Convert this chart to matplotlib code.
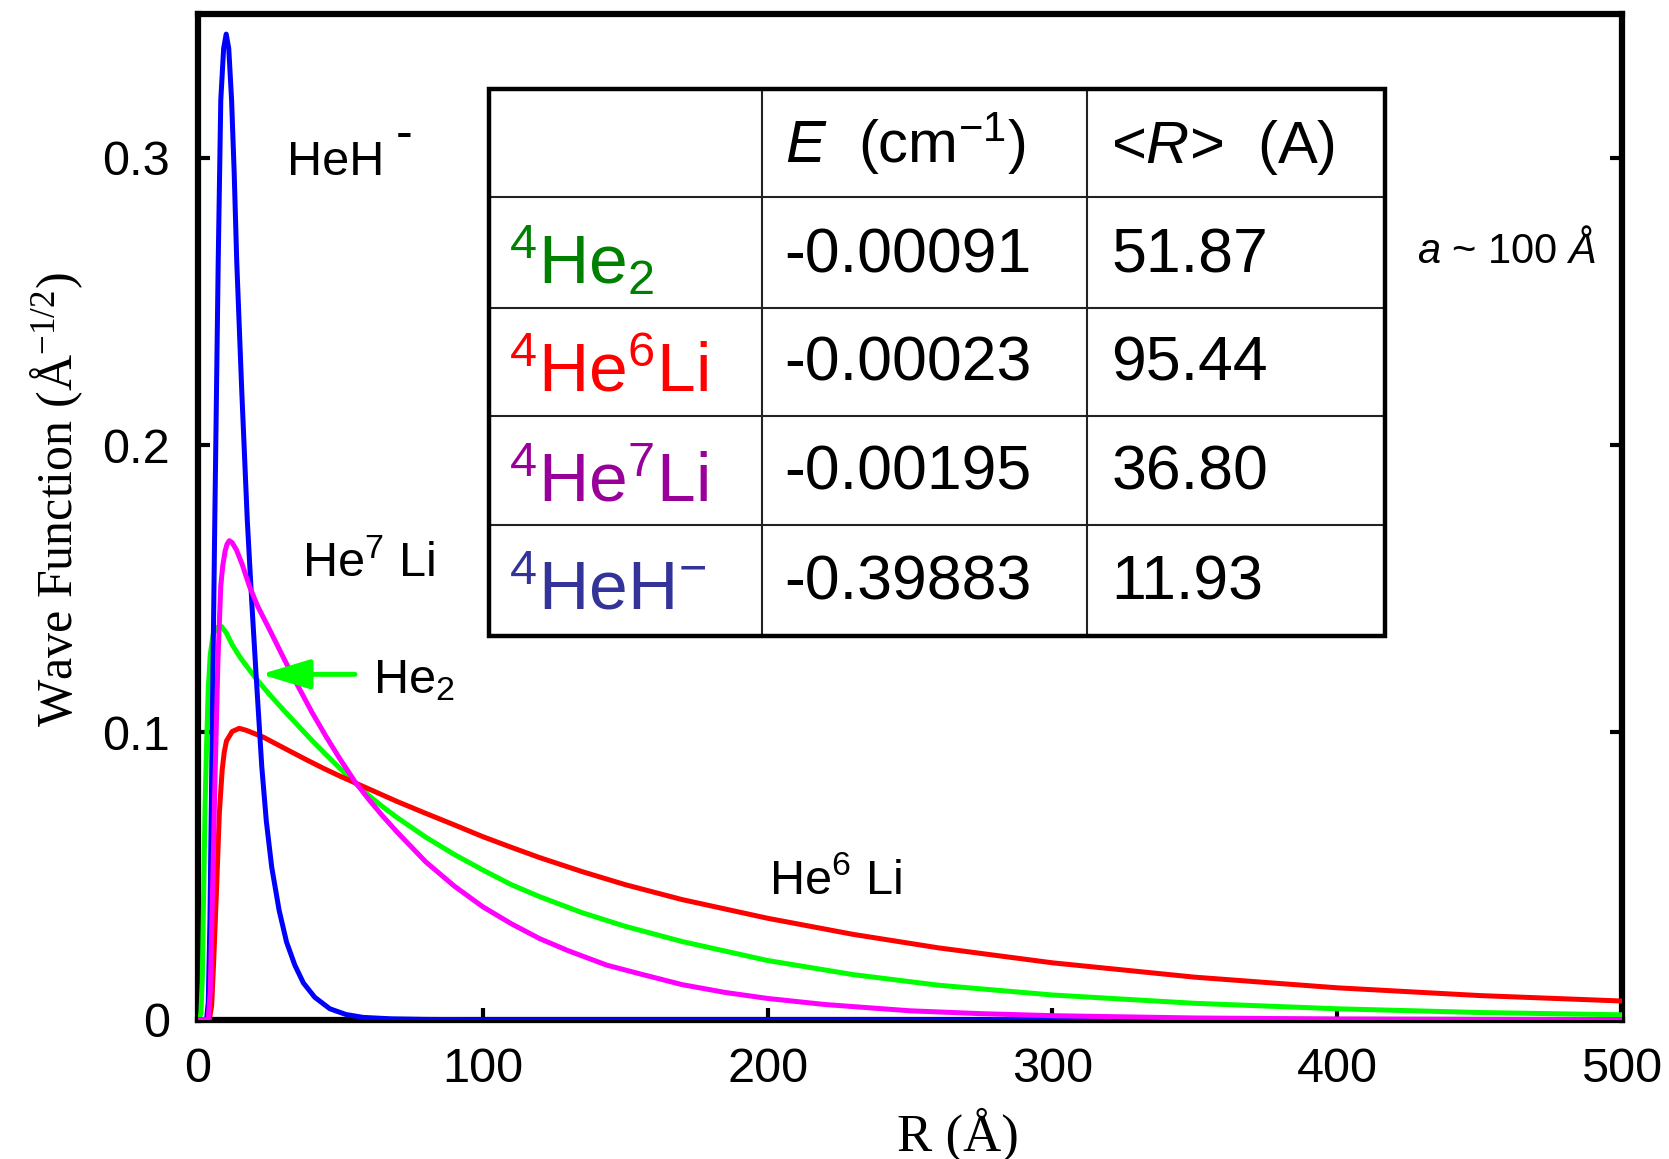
import matplotlib.pyplot as plt

plt.rcParams['font.family'] = 'Liberation Sans'
plt.rcParams['mathtext.fontset'] = 'custom'
plt.rcParams['mathtext.rm'] = 'Liberation Sans'
plt.rcParams['mathtext.it'] = 'Liberation Sans:italic'
plt.rcParams['mathtext.default'] = 'regular'

# Wave functions: R in Angstrom, psi in A^-1/2
r_he2 = [0, 1.0, 1.5, 2.0, 2.5, 3.0, 3.6, 4.3, 5.3, 6.5, 8.3, 10, 12, 15, 20, 25,
         30, 35, 40, 45, 50, 55, 60, 65, 70, 80, 90, 100, 110, 120, 135, 150,
         170, 200, 230, 260, 300, 350, 400, 450, 500]
psi_he2 = [0, 0.002, 0.014, 0.045, 0.075, 0.095, 0.115, 0.127, 0.134, 0.1365,
           0.1368, 0.1345, 0.1305, 0.1258, 0.1192, 0.1133, 0.1078, 0.1025,
           0.0972, 0.0922, 0.0873, 0.0825, 0.0780, 0.0740, 0.0703, 0.0635,
           0.0575, 0.0521, 0.0470, 0.0428, 0.0372, 0.0325, 0.0272, 0.0206,
           0.0157, 0.0120, 0.0086, 0.0057, 0.0038, 0.0025, 0.0017]

r_he6li = [0, 4.0, 4.8, 5.5, 6.5, 7.5, 8.5, 9.2, 10, 12, 14.5, 17, 20, 23, 27,
           32, 38, 44, 50, 55, 60, 65, 70, 80, 90, 100, 110, 120, 135, 150, 170,
           200, 230, 260, 300, 350, 400, 450, 500]
psi_he6li = [0, 0, 0.005, 0.02, 0.045, 0.072, 0.087, 0.093, 0.097, 0.1003,
             0.1014, 0.1007, 0.0995, 0.0983, 0.0962, 0.0936, 0.0905, 0.0875,
             0.0847, 0.0825, 0.0803, 0.0781, 0.0759, 0.0718, 0.0678, 0.0637,
             0.0600, 0.0564, 0.0515, 0.0470, 0.0418, 0.0353, 0.0297, 0.0250,
             0.0198, 0.0148, 0.0111, 0.0084, 0.0065]

r_he7li = [0, 3.6, 4.3, 5.0, 6.0, 7.0, 8.0, 8.7, 9.5, 10.2, 11, 12, 13.5, 15.5,
           18, 21, 25, 30, 35, 40, 45, 50, 55, 60, 65, 70, 80, 90, 100, 110, 120,
           130, 143.5, 155, 170, 185, 200, 220, 250, 275, 300, 350, 400, 450, 500]
psi_he7li = [0, 0, 0.01, 0.04, 0.085, 0.125, 0.151, 0.158, 0.163, 0.1655,
             0.1667, 0.1660, 0.1635, 0.1585, 0.1510, 0.1438, 0.1360, 0.1260,
             0.1163, 0.1070, 0.0985, 0.0905, 0.0830, 0.0766, 0.0707, 0.0652,
             0.0549, 0.0465, 0.0393, 0.0334, 0.0282, 0.0240, 0.0190, 0.0160,
             0.0122, 0.0095, 0.0074, 0.0053, 0.0031, 0.0021, 0.0014, 0.0006,
             0.00025, 0.0001, 0.00005]

r_heh = [0, 3.0, 3.6, 4.2, 4.8, 5.9, 7.1, 8.0, 9.0, 9.9, 10.8, 11.8, 12.7, 13.6,
         15.4, 17.3, 18.9, 20.4, 22.4, 24.0, 25.9, 28.5, 31.1, 34, 37, 41, 46.3,
         52, 58, 68, 80, 100, 200, 320]
psi_heh = [0, 0, 0.006, 0.035, 0.085, 0.174, 0.264, 0.32, 0.338, 0.343, 0.338,
           0.32, 0.295, 0.264, 0.218, 0.174, 0.145, 0.12, 0.088, 0.069, 0.053,
           0.038, 0.027, 0.019, 0.0128, 0.0078, 0.0038, 0.0018, 0.0008, 0.0003,
           0.0001, 0, 0, 0]

# table contents
species = [r'$^{4}$He$_{2}$', r'$^{4}$He$^{6}$Li', r'$^{4}$He$^{7}$Li', r'$^{4}$HeH$^{-}$']
species_colors = ['#008000', '#ff0000', '#990099', '#333399']
energies = ['-0.00091', '-0.00023', '-0.00195', '-0.39883']
mean_r = ['51.87', '95.44', '36.80', '11.93']

fig = plt.figure(figsize=(16.69, 11.59), dpi=100)
ax = fig.add_axes([0.11863, 0.12019, 0.85321, 0.86773])

ax.plot(r_he2, psi_he2, color='#00ff00', lw=3.6, zorder=3)
ax.plot(r_he6li, psi_he6li, color='#ff0000', lw=3.6, zorder=3)
ax.plot(r_heh, psi_heh, color='#0000ff', lw=3.6, zorder=3)
ax.plot(r_he7li, psi_he7li, color='#ff00ff', lw=3.6, zorder=3)

ax.set_xlim(0, 500)
ax.set_ylim(0, 0.35)
ax.set_xticks([0, 100, 200, 300, 400, 500])
ax.set_yticks([0, 0.1, 0.2, 0.3])
ax.set_yticklabels(['0', '0.1', '0.2', '0.3'])
ax.tick_params(direction='in', length=8.5, width=3, labelsize=35, pad=20,
               left=True, right=True, top=False, bottom=True)
for s in ax.spines.values():
    s.set_linewidth(4.5)

ax.set_ylabel('Wave Function (Å$^{-1/2}$)', family='Liberation Serif',
              fontsize=36, va='center')
ax.yaxis.set_label_coords(-0.099, 0.517)
ax.set_xlabel('R (Å)', family='Liberation Serif', fontsize=38, va='center')
ax.xaxis.set_label_coords(0.5337, -0.114)

# curve labels
ax.text(31.1, 0.2939, 'HeH', fontsize=35, va='baseline')
ax.text(72.3, 0.3035, '-', fontsize=36, va='baseline', ha='center')
ax.text(36.4, 0.1541, 'He$^{7}$ Li', fontsize=35, va='baseline')
ax.text(61.4, 0.1137, 'He$_{2}$', fontsize=35, va='baseline')
ax.text(200.5, 0.0437, 'He$^{6}$ Li', fontsize=35, va='baseline')
ax.text(428.1, 0.2635, r'$\mathit{a}$ ~ 100 $\mathit{Å}$', fontsize=30, va='baseline')
ax.annotate('', xy=(22.0, 0.1202), xytext=(55.1, 0.1202),
            arrowprops=dict(arrowstyle='-|>,head_length=1.5,head_width=0.45',
                            color='#00ff00', lw=3.6, mutation_scale=20,
                            shrinkA=0, shrinkB=0))

# inset table (axes fraction)
tx = [0.2041, 0.3961, 0.6242, 0.8334]
ty = [0.9250, 0.8181, 0.7081, 0.6001, 0.4922, 0.3820]
tr = ax.transAxes
for y in ty[1:-1]:
    ax.plot([tx[0], tx[-1]], [y, y], color='#222222', lw=1.5, transform=tr, zorder=4)
for x in tx[1:-1]:
    ax.plot([x, x], [ty[-1], ty[0]], color='#222222', lw=1.5, transform=tr, zorder=4)
ax.add_patch(plt.Rectangle((tx[0], ty[-1]), tx[-1] - tx[0], ty[0] - ty[-1],
                           transform=tr, fill=False, ec='black', lw=3.2, zorder=5))

ax.text(0.4119, 0.8519, r'$\mathit{E}$  (cm$^{-1}$)', fontsize=43,
        va='baseline', transform=tr)
ax.text(0.6415, 0.8519, r'<$\mathit{R}$>  (A)', fontsize=43,
        va='baseline', transform=tr)

val_base = [0.7429, 0.6357, 0.5267, 0.4176]
lab_base = [0.7317, 0.6245, 0.5158, 0.4084]
for i in range(4):
    ax.text(0.2184, lab_base[i], species[i], color=species_colors[i], fontsize=50,
            va='baseline', transform=tr)
    ax.text(0.4119, val_base[i], energies[i], fontsize=45, va='baseline', transform=tr)
    ax.text(0.6413, val_base[i], mean_r[i], fontsize=45, va='baseline', transform=tr)

fig.savefig('out.png', dpi=100)
